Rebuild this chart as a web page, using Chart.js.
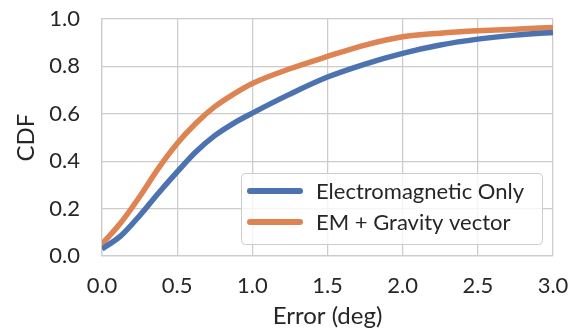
<!DOCTYPE html>
<html>
<head>
<meta charset="utf-8">
<style>
  html, body { margin: 0; padding: 0; background: #fff; }
  #wrap { width: 572px; height: 335px; position: relative; }
</style>
<script src="https://cdn.jsdelivr.net/npm/chart.js@4/dist/chart.umd.min.js"></script>
</head>
<body>
<div id="wrap"><canvas id="c" width="572" height="335"></canvas></div>
<script>
// ---- data ----
const errorDeg   = [0, 0.125, 0.25, 0.375, 0.5, 0.625, 0.75, 0.875, 1.0, 1.25, 1.5, 1.75, 2.0, 2.25, 2.5, 2.75, 3.0];
const emOnly     = [0.03, 0.085, 0.17, 0.265, 0.355, 0.44, 0.508, 0.56, 0.603, 0.683, 0.755, 0.81, 0.855, 0.89, 0.915, 0.932, 0.943];
const emGravity  = [0.05, 0.14, 0.25, 0.37, 0.475, 0.56, 0.63, 0.683, 0.728, 0.79, 0.842, 0.89, 0.925, 0.94, 0.95, 0.957, 0.964];
const seriesNames = ['Electromagnetic Only', 'EM + Gravity vector'];
const xTicks = [0, 0.5, 1.0, 1.5, 2.0, 2.5, 3.0];
const yTicks = [0, 0.2, 0.4, 0.6, 0.8, 1.0];

const FONT = 'Lato, "DejaVu Sans", sans-serif';
const TEXT = '#262626';
const GRID = '#cccccc';
const colors = ['#4C72B0', '#DD8452'];

const toPts = (ys) => errorDeg.map((x, i) => ({ x: x, y: ys[i] }));

const legendPlugin = {
  id: 'insideLegend',
  afterDatasetsDraw(chart) {
    const ctx = chart.ctx;
    const ca = chart.chartArea;
    const w = 301, h = 71;
    const x0 = ca.right - 11 - w, y0 = ca.bottom - 12 - h;
    ctx.save();
    ctx.beginPath();
    if (ctx.roundRect) ctx.roundRect(x0 + 0.5, y0 + 0.5, w, h, 4); else ctx.rect(x0 + 0.5, y0 + 0.5, w, h);
    ctx.fillStyle = 'rgba(255,255,255,0.8)';
    ctx.fill();
    ctx.strokeStyle = GRID;
    ctx.lineWidth = 1;
    ctx.stroke();
    ctx.font = '22px ' + FONT;
    ctx.textBaseline = 'middle';
    ctx.textAlign = 'left';
    chart.data.datasets.forEach((ds, i) => {
      const yy = y0 + 18 + i * 31;
      ctx.beginPath();
      ctx.lineCap = 'round';
      ctx.lineWidth = 6;
      ctx.strokeStyle = ds.borderColor;
      ctx.moveTo(x0 + 9, yy);
      ctx.lineTo(x0 + 59, yy);
      ctx.stroke();
      ctx.fillStyle = TEXT;
      ctx.fillText(ds.label, x0 + 75, yy + 1);
    });
    ctx.restore();
  }
};

new Chart(document.getElementById('c'), {
  type: 'line',
  data: {
    datasets: [
      { label: seriesNames[0], data: toPts(emOnly), borderColor: colors[0], backgroundColor: colors[0] },
      { label: seriesNames[1], data: toPts(emGravity), borderColor: colors[1], backgroundColor: colors[1] }
    ]
  },
  options: {
    responsive: false,
    animation: false,
    layout: { padding: { top: 19, right: 19, left: 0, bottom: 0 } },
    elements: {
      point: { radius: 0 },
      line: { borderWidth: 5.5, cubicInterpolationMode: 'monotone', borderCapStyle: 'butt' }
    },
    plugins: { legend: { display: false }, tooltip: { enabled: false } },
    scales: {
      x: {
        type: 'linear', min: 0, max: 3,
        afterBuildTicks: (s) => { s.ticks = xTicks.map(v => ({ value: v })); },
        afterFit: (s) => { s.height = 79; s.paddingLeft = 0; s.paddingRight = 0; },
        grid: { color: GRID, lineWidth: 1.25, drawTicks: false },
        border: { color: GRID, width: 1.25 },
        ticks: { color: TEXT, font: { family: FONT, size: 22 }, padding: 17, maxRotation: 0,
                 callback: (v) => Number(v).toFixed(1) },
        title: { display: true, text: 'Error (deg)', color: TEXT, font: { family: FONT, size: 24 }, padding: { top: 0, bottom: 4 } }
      },
      y: {
        min: 0, max: 1,
        afterBuildTicks: (s) => { s.ticks = yTicks.map(v => ({ value: v })); },
        afterFit: (s) => { s.width = 102; s.paddingTop = 0; s.paddingBottom = 0; },
        grid: { color: GRID, lineWidth: 1.25, drawTicks: false },
        border: { color: GRID, width: 1.25 },
        ticks: { color: TEXT, font: { family: FONT, size: 22 }, padding: 22,
                 callback: (v) => Number(v).toFixed(1) },
        title: { display: true, text: 'CDF', color: TEXT, font: { family: FONT, size: 24 }, padding: { top: 12, bottom: 0 } }
      }
    }
  },
  plugins: [legendPlugin]
});
</script>
</body>
</html>
